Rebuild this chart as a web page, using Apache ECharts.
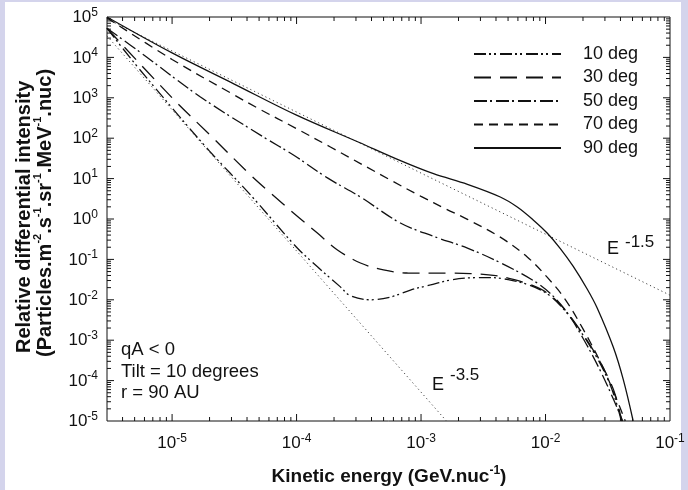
<!DOCTYPE html>
<html><head><meta charset="utf-8">
<script src="https://cdn.jsdelivr.net/npm/echarts@6/dist/echarts.min.js"></script>
<style>html,body{margin:0;padding:0;background:#d4d4ec;}#c{width:688px;height:490px;}</style>
</head><body><div id="c"></div>
<script>
// ---- data (x: kinetic energy GeV/nuc, y: relative intensity) ----
const deg10 = [[3.0e-6,5.25e4],[5.01e-6,7.1e3],[1.0e-5,562],[2.0e-5,47.9],[4.27e-5,3.93],[1.0e-4,0.2],[1.48e-4,0.0646],[2.25e-4,0.0209],[2.71e-4,0.0126],[3.92e-4,0.0100],[5.68e-4,0.0117],[8.22e-4,0.0174],[1.19e-3,0.0234],[1.72e-3,0.0309],[2.36e-3,0.0347],[3.55e-3,0.0355],[5.01e-3,0.0316],[7.13e-3,0.024],[1.03e-2,0.0141],[1.39e-2,6.0e-3],[1.9e-2,1.7e-3],[2.6e-2,3.6e-4],[3.2e-2,1.0e-4],[3.63e-2,3.5e-5],[4.07e-2,1.0e-5]];
const deg30 = [[3.0e-6,5.25e4],[1.0e-5,1.0e3],[2.0e-5,123],[4.27e-5,12.3],[6.18e-5,4.4],[9.44e-5,1.41],[1.47e-4,0.45],[2.13e-4,0.171],[3.26e-4,0.0815],[4.99e-4,0.0547],[7.78e-4,0.046],[1.19e-3,0.0457],[1.72e-3,0.0457],[2.51e-3,0.0447],[3.98e-3,0.0398],[5.62e-3,0.0316],[7.94e-3,0.0224],[1.03e-2,0.0148],[1.39e-2,6.3e-3],[1.9e-2,1.78e-3],[2.6e-2,3.9e-4],[3.16e-2,1.26e-4],[3.63e-2,4.5e-5],[4.1e-2,1.0e-5]];
const deg50 = [[3.0e-6,5.25e4],[6.12e-6,1.07e4],[1.69e-5,1.05e3],[5.42e-5,107],[9.44e-5,38.4],[1.77e-4,10.4],[3.26e-4,3.5],[6.82e-4,0.796],[1.26e-3,0.372],[2.36e-3,0.19],[4.33e-3,0.083],[7.94e-3,0.0302],[1.1e-2,0.0141],[1.48e-2,5.0e-3],[2.0e-2,1.12e-3],[2.75e-2,1.78e-4],[3.55e-2,3.2e-5],[4.17e-2,1.0e-5]];
const deg70 = [[3.0e-6,9.5e4],[1.0e-5,8.9e3],[3.16e-5,1.17e3],[4.85e-5,560],[1.0e-4,172],[1.87e-4,60.5],[5.68e-4,9.2],[1.0e-3,3.63],[1.58e-3,1.78],[2.36e-3,0.98],[4.33e-3,0.355],[7.13e-3,0.115],[1.03e-2,0.0363],[1.41e-2,0.0112],[2.0e-2,1.9e-3],[2.82e-2,2.5e-4],[3.72e-2,3.5e-5],[4.37e-2,1.0e-5]];
const deg90 = [[3.0e-6,1.0e5],[1.0e-5,1.29e4],[3.16e-5,2.19e3],[1.0e-4,372],[3.16e-4,79.4],[6.76e-4,28.2],[1.26e-3,13.2],[2.36e-3,7.2],[4.33e-3,3.5],[5.93e-3,1.98],[7.96e-3,0.948],[1.03e-2,0.449],[1.31e-2,0.188],[1.67e-2,0.0671],[2.16e-2,0.0185],[2.6e-2,6.27e-3],[3.5e-2,6.76e-4],[4.21e-2,1.07e-4],[5.06e-2,1.0e-5]];
const powerLaw15 = [[3.0e-6,8.9e4],[0.1,0.013]];
const powerLaw35 = [[3.0e-6,3.4e4],[1.6e-3,1.0e-5]];

const seriesNames = ['10 deg','30 deg','50 deg','70 deg','90 deg'];
const xTickValues = [1e-5,1e-4,1e-3,1e-2,1e-1];
const xTickExps = ['-5','-4','-3','-2','-1'];
const yTickValues = [1e-5,1e-4,1e-3,1e-2,1e-1,1,10,100,1e3,1e4,1e5];
const yTickExps = ['-5','-4','-3','-2','-1','0','1','2','3','4','5'];
const xTitle = ['Kinetic energy (GeV.nuc', '-1', ')'];
const yTitle1 = ['Relative differential intensity'];
const yTitle2 = ['(Particles.m','-2','.s','-1','.sr','-1','.MeV','-1','.nuc)'];
const notes = ['qA < 0','Tilt = 10 degrees','r = 90 AU'];

// ---- chart ----
const FONT = 'Arial, "Liberation Sans", Helvetica, sans-serif';
const X_MIN = 3e-6, X_MAX = 0.1, Y_MIN = 1e-5, Y_MAX = 1e5;
const INK = '#111';

// tick positions (major at decades, minor at 2..9 x decade)
const xTickData = [];
for (let d = -6; d <= -2; d++) for (let m = 1; m <= 9; m++) {
  const v = m * Math.pow(10, d);
  if (v > X_MIN * 1.001 && v < X_MAX * 0.999) xTickData.push([v, 1, m === 1 ? 2 : 1]);
}
const yTickData = [];
for (let d = -5; d <= 4; d++) for (let m = 1; m <= 9; m++) {
  const v = m * Math.pow(10, d);
  if (v > Y_MIN * 1.001 && v < Y_MAX * 0.999) yTickData.push([1e-3, v, m === 1 ? 2 : 1]);
}

const LBL = 17, LBL_S = 12;
const supRich = {
  b: {fontSize: LBL, fontFamily: FONT, fill: INK, lineHeight: LBL, padding: [5, 0, 0, 0]},
  s: {fontSize: LBL_S, fontFamily: FONT, fill: INK, lineHeight: LBL_S, verticalAlign: 'top'}
};

function line(x1, y1, x2, y2) {
  return {type: 'line', shape: {x1, y1, x2, y2}, style: {stroke: INK, lineWidth: 1}};
}

const curveStyles = [
  [12, 3, 2, 3, 2, 4],
  [17, 9],
  [13, 3, 2, 4],
  [9, 6],
  'solid'
];
const curveData = [deg10, deg30, deg50, deg70, deg90];

const series = curveData.map((d, i) => ({
  name: seriesNames[i], type: 'line', data: d, symbol: 'none', smooth: 0.35,
  lineStyle: {color: INK, width: 1.3, type: curveStyles[i]},
  itemStyle: {color: INK}, z: 3
}));
[powerLaw15, powerLaw35].forEach(d => series.push({
  type: 'line', data: d, symbol: 'none', silent: true,
  lineStyle: {color: '#444', width: 1, type: [1.2, 3]}, z: 2
}));
series.push({
  type: 'custom', coordinateSystem: 'cartesian2d', clip: false, silent: true, z: 5,
  data: xTickData,
  renderItem(params, api) {
    const v = api.value(0), len = api.value(2) > 1 ? 7 : 4;
    const b = api.coord([v, Y_MIN]), t = api.coord([v, Y_MAX]);
    return {type: 'group', children: [line(b[0], b[1], b[0], b[1] - len), line(t[0], t[1], t[0], t[1] + len)]};
  }
});
series.push({
  type: 'custom', coordinateSystem: 'cartesian2d', clip: false, silent: true, z: 5,
  data: yTickData,
  renderItem(params, api) {
    const v = api.value(1), len = api.value(2) > 1 ? 7 : 4;
    const l = api.coord([X_MIN, v]), r = api.coord([X_MAX, v]);
    return {type: 'group', children: [line(l[0], l[1], l[0] + len, l[1]), line(r[0], r[1], r[0] - len, r[1])]};
  }
});
series.push({
  type: 'custom', coordinateSystem: 'cartesian2d', clip: false, silent: true, z: 5,
  data: xTickValues.map(v => [v, 1]),
  renderItem(params, api) {
    const p = api.coord([api.value(0), Y_MIN]);
    return {type: 'text', x: p[0], y: p[1] + 20, style: {
      text: '{b|10}{s|' + xTickExps[params.dataIndex] + '}', rich: supRich,
      fontSize: LBL, fontFamily: FONT,
      align: 'center', verticalAlign: 'middle', fill: INK}};
  }
});
series.push({
  type: 'custom', coordinateSystem: 'cartesian2d', clip: false, silent: true, z: 5,
  data: yTickValues.map(v => [1e-3, v]),
  renderItem(params, api) {
    const p = api.coord([X_MIN, api.value(1)]);
    return {type: 'text', x: p[0] - 9, y: p[1] - 2, style: {
      text: '{b|10}{s|' + yTickExps[params.dataIndex] + '}', rich: supRich,
      fontSize: LBL, fontFamily: FONT,
      align: 'right', verticalAlign: 'middle', fill: INK}};
  }
});

function richFrom(parts, big, small, weight) {
  return {
    text: parts.map((p, i) => (i % 2 ? '{s|' : '{b|') + p + '}').join(''),
    fontSize: big, fontWeight: weight, fontFamily: FONT, fill: INK,
    rich: {
      b: {fontSize: big, fontWeight: weight, fontFamily: FONT, fill: INK, lineHeight: big, padding: [6, 0, 0, 0]},
      s: {fontSize: small, fontWeight: weight, fontFamily: FONT, fill: INK, lineHeight: small, verticalAlign: 'top'}
    }
  };
}
function txt(x, y, text, size, extra) {
  return Object.assign({type: 'text', x, y, silent: true, style: {
    text, fontSize: size, fontFamily: FONT, fill: INK, align: 'left', verticalAlign: 'middle'}}, extra || {});
}

const xT = richFrom(xTitle, 19, 12, 'bold');
const yT1 = richFrom(yTitle1, 20, 11, 'bold');
const yT2 = richFrom(yTitle2, 20, 11, 'bold');

const graphic = [
  {type: 'rect', shape: {x: 5, y: 2, width: 676, height: 488}, style: {fill: '#fff'}, z: -100, silent: true},
  {type: 'text', x: 389, y: 474, silent: true, style: Object.assign(xT, {align: 'center', verticalAlign: 'middle'})},
  {type: 'text', x: 21, y: 353, rotation: Math.PI / 2, silent: true, style: Object.assign(yT1, {align: 'left', verticalAlign: 'middle'})},
  {type: 'text', x: 42, y: 357, rotation: Math.PI / 2, silent: true, style: Object.assign(yT2, {align: 'left', verticalAlign: 'middle'})},
  txt(121, 350, notes[0], 18.5),
  txt(121, 372, notes[1], 18.5),
  txt(121, 393, notes[2], 18.5),
  txt(607, 249, 'E', 18),
  txt(625, 242, '-1.5', 17),
  txt(432, 385, 'E', 18),
  txt(450, 375, '-3.5', 17)
];

const chart = echarts.init(document.getElementById('c'));
chart.setOption({
  animation: false,
  backgroundColor: '#d4d4ec',
  graphic,
  grid: {left: 107, right: 18, top: 17, bottom: 69, show: true, borderColor: INK, borderWidth: 1, backgroundColor: 'transparent'},
  xAxis: {type: 'log', min: X_MIN, max: X_MAX, axisLine: {show: false}, axisTick: {show: false}, axisLabel: {show: false}, splitLine: {show: false}, minorTick: {show: false}},
  yAxis: {type: 'log', min: Y_MIN, max: Y_MAX, axisLine: {show: false}, axisTick: {show: false}, axisLabel: {show: false}, splitLine: {show: false}, minorTick: {show: false}},
  legend: {
    data: seriesNames, orient: 'vertical', left: 473, top: 45, padding: 0,
    itemWidth: 87, itemHeight: 14, itemGap: 5.5,
    itemStyle: {opacity: 0, borderWidth: 0},
    textStyle: {fontSize: 18, fontFamily: FONT, color: INK, padding: [0, 0, 0, 17]},
    selectedMode: false
  },
  series
});
</script></body></html>
